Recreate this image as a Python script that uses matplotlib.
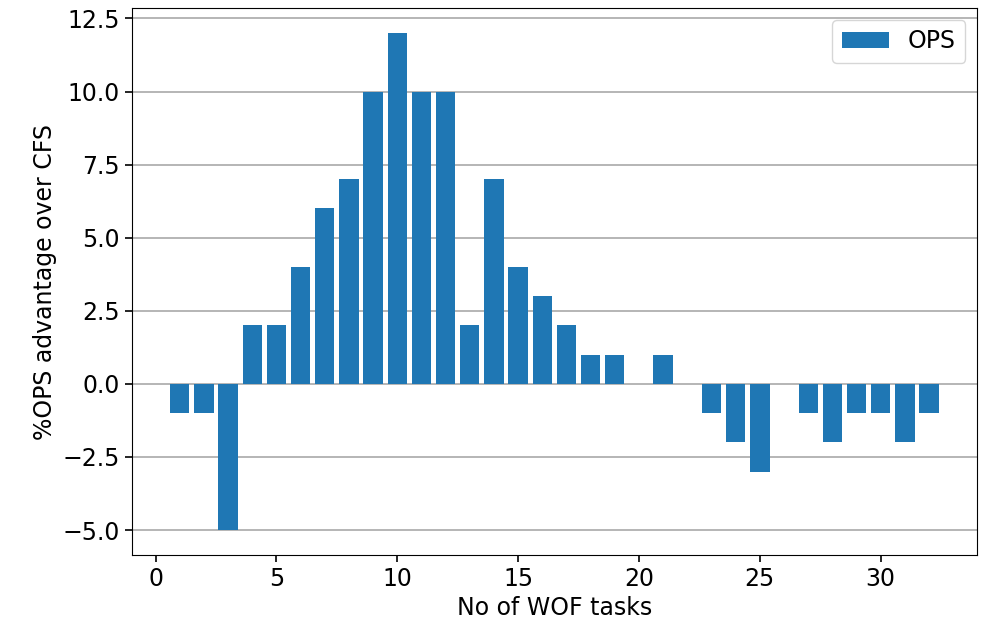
import matplotlib
matplotlib.use("Agg")
import matplotlib.pyplot as plt

tasks = list(range(1, 33))
advantage = [-1, -1, -5, 2, 2, 4, 6, 7, 10, 12, 10, 10, 2, 7, 4, 3,
             2, 1, 1, 0, 1, 0, -1, -2, -3, 0, -1, -2, -1, -1, -2, -1]

plt.rcParams['font.size'] = 17

fig, ax = plt.subplots(figsize=(9.83, 6.32), dpi=100)
ax.bar(tasks, advantage, label='OPS', zorder=3)
ax.yaxis.grid(True, color='#b0b0b0', linewidth=1.3, zorder=0)
ax.tick_params(width=1.2, length=5)
ax.set_xlabel('No of WOF tasks')
ax.set_ylabel('%OPS advantage over CFS')
ax.legend(loc='upper right')

plt.subplots_adjust(left=0.134, right=0.994, top=0.987, bottom=0.122)
plt.savefig('out.png')
